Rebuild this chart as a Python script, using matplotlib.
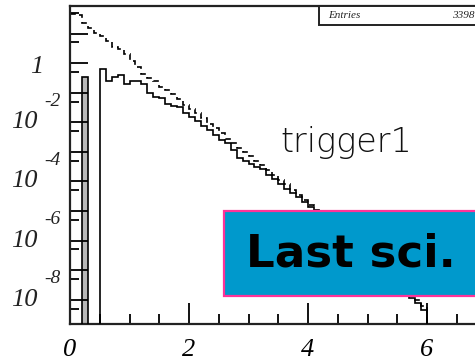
import numpy as np
import matplotlib
matplotlib.use("Agg")
import matplotlib.pyplot as plt
from matplotlib import transforms
from matplotlib.patches import Rectangle

# Histogram binning
x_lo, x_hi, n_bins = 0.0, 6.0, 60

# log10 of bin contents (None = empty bin)
all_log = [
    1.66, 1.64, 1.36, 1.18, 1.02, 0.90, 0.76, 0.54, 0.46, 0.30,
    0.08, -0.12, -0.38, -0.52, -0.62, -0.80, -0.90, -1.05, -1.22, -1.40,
    -1.55, -1.70, -1.86, -2.05, -2.20, -2.38, -2.55, -2.70, -2.88, -3.02,
    -3.15, -3.30, -3.45, -3.62, -3.78, -3.95, -4.10, -4.28, -4.45, -4.62,
    -4.80, -4.98, -5.12, -5.30, -5.45, -5.62, -5.78, -5.95, -6.10, -6.28,
    -6.45, -6.60, -6.78, -6.95, -7.12, -7.30, -7.48, -7.85, -8.00, -8.20,
]
trig_log = [
    None, None, -0.47, None, None, -0.20, -0.61, -0.47, -0.41, -0.71,
    -0.61, -0.61, -0.72, -1.01, -1.15, -1.19, -1.39, -1.45, -1.47, -1.69,
    -1.82, -1.96, -2.13, -2.26, -2.43, -2.60, -2.70, -2.95, -3.20, -3.30,
    -3.40, -3.50, -3.58, -3.78, -3.92, -4.08, -4.25, -4.38, -4.52, -4.70,
    -4.88, -5.05, -5.20, -5.38, -5.52, -5.70, -5.85, -6.02, -6.18, -6.35,
    -6.50, -6.68, -6.85, -7.02, -7.20, -7.38, -7.55, -7.95, -8.10, -8.35,
]

x_ticks = [0, 2, 4, 6]
y_label_decades = [-2, -4, -6, -8]
entries_text = "33986"

FLOOR = 1e-14


def to_counts(logs):
    return np.array([FLOOR if v is None else 10.0 ** v for v in logs])


edges = np.linspace(x_lo, x_hi, n_bins + 1)
all_counts = to_counts(all_log)
trig_counts = to_counts(trig_log)

W, H = 475, 363
fig = plt.figure(figsize=(W / 100, H / 100), dpi=100)
ax_left, ax_bottom, ax_top = 70, 324, 6
x_max = 7.0
px_per_unit = 59.5
ax = fig.add_axes([ax_left / W, (H - ax_bottom) / H,
                   x_max * px_per_unit / W, (ax_bottom - ax_top) / H])

ax.set_yscale("log")
ax.set_xlim(0, x_max)
ax.set_ylim(10 ** -8.82, 10 ** 1.93)

# filled narrow bin of the trigger histogram
ax.bar(edges[2], trig_counts[2], width=edges[3] - edges[2], align="edge",
       bottom=FLOOR, color="#b8b8b8", edgecolor="none", zorder=1)

ax.stairs(all_counts, edges, baseline=FLOOR, color="black", lw=1.2,
          linestyle=(0, (3.5, 2.5)), zorder=2)
ax.stairs(trig_counts, edges, baseline=FLOOR, color="black", lw=1.2, zorder=3)

for s in ax.spines.values():
    s.set_linewidth(1.6)
    s.set_color("#222222")

# ticks
ax.set_xticks(x_ticks)
ax.set_xticklabels([str(t) for t in x_ticks], fontsize=19,
                   family=["Liberation Serif", "DejaVu Serif"], style="italic")
ax.set_xticks(np.arange(0, x_max + 0.01, 0.5), minor=True)
ax.tick_params(axis="x", which="major", direction="in", length=15, width=1.3, pad=11)
ax.tick_params(axis="x", which="minor", direction="in", length=7.5, width=1.3)

ax.yaxis.set_major_locator(matplotlib.ticker.LogLocator(base=10, numticks=20))
ax.yaxis.set_minor_locator(matplotlib.ticker.LogLocator(base=10, subs=[5.0], numticks=20))
ax.yaxis.set_major_formatter(matplotlib.ticker.NullFormatter())
ax.yaxis.set_minor_formatter(matplotlib.ticker.NullFormatter())
ax.tick_params(axis="y", which="major", direction="in", length=13, width=1.3)
ax.tick_params(axis="y", which="minor", direction="in", length=6.5, width=1.3)

# y tick labels: "1" and 10^n
serif = dict(family=["Liberation Serif", "DejaVu Serif"], style="italic", color="#222222")
ytr = transforms.blended_transform_factory(fig.transFigure, ax.transData)
fig.text(43 / W, 10 ** -0.12, "1", transform=ytr, ha="right", va="center",
         fontsize=19, **serif)
for d in y_label_decades:
    fig.text(38 / W, 10.0 ** d, "10", transform=ytr, ha="right", va="center",
             fontsize=19, **serif)
    fig.text(44 / W, 10.0 ** (d + 0.71), str(d), transform=ytr, ha="left",
             va="center", fontsize=14, **serif)

# statistics box
fig.patches.append(Rectangle((319 / W, (H - 25) / H), 200 / W, 19 / H,
                             transform=fig.transFigure, facecolor="white",
                             edgecolor="#222222", lw=1.4, zorder=5))
fig.text(328 / W, (H - 15.5) / H, "Entries", fontsize=8, ha="left", va="center",
         zorder=6, **serif)
fig.text(452 / W, (H - 15.5) / H, entries_text, fontsize=8, ha="left", va="center",
         zorder=6, **serif)

# histogram title
fig.text(280 / W, (H - 152) / H, "trigger1", fontsize=24, ha="left",
         va="baseline", color="#111111",
         family=["DejaVu Sans"], weight="light")

# annotation box
fig.patches.append(Rectangle((224 / W, (H - 296) / H), 270 / W, 85 / H,
                             transform=fig.transFigure, facecolor="#0099cc",
                             edgecolor="#ff3399", lw=1.6, zorder=7))
fig.text(246 / W, (H - 254) / H, "Last sci.", fontsize=32.5, weight="bold",
         ha="left", va="center", color="black", zorder=8,
         family=["DejaVu Sans"])

fig.savefig("out.png", dpi=100)
